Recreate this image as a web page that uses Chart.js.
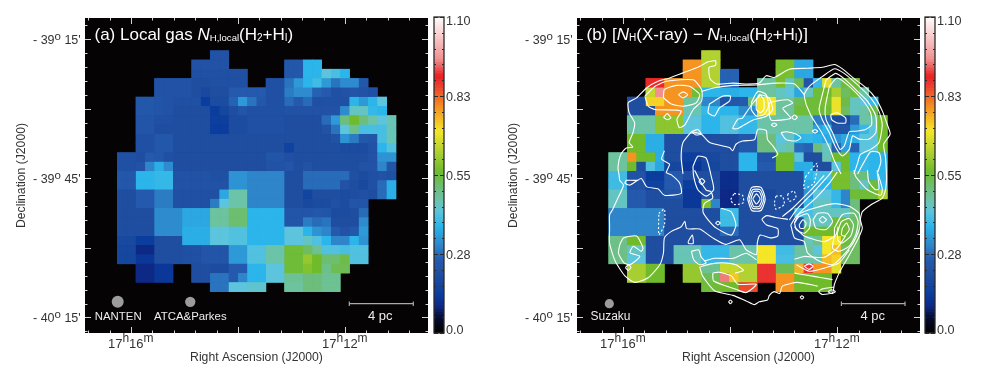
<!DOCTYPE html>
<html>
<head>
<meta charset="utf-8">
<title>Local gas and X-ray absorption maps</title>
<script src="https://cdn.jsdelivr.net/npm/chart.js@4"></script>
<style>
  html, body { margin: 0; background: #fff; }
  canvas { position: absolute; top: 0; }
</style>
</head>
<body>
<canvas id="panelA" style="left:0" width="490" height="378"></canvas>
<canvas id="barA" style="left:428px" width="51" height="378"></canvas>
<canvas id="panelB" style="left:490px" width="491" height="378"></canvas>
<canvas id="barB" style="left:919px" width="51" height="378"></canvas>
<script>
const _ = null;

// Column density per map cell (one cell = 2 arcmin), rows run north to south
const localGasRows = [
  [_,_,_,_,_,_,_,_,_,_,.22,.22,_,_,_,_,_,_,_,_,_,_,_,_,_,_,_,_,_,_],
  [_,_,_,_,_,_,_,_,.22,.22,.22,.22,_,_,_,_,_,_,.24,.24,.37,.37,_,_,_,_,_,_,_,_],
  [_,_,_,_,_,_,_,_,.21,.21,.21,.21,.21,.21,_,_,_,_,.24,.24,.37,.37,.42,.4,.37,_,_,_,_,_],
  [_,_,_,_,.22,.22,.22,.22,.2,.2,.21,.21,.21,.21,_,_,.21,.21,.28,.33,.37,.39,.33,.28,.31,.31,.24,_,_,_],
  [_,_,_,_,.22,.22,.22,.22,.2,.18,.2,.2,.25,.25,.25,.25,.21,.21,.29,.31,.31,.26,.25,.21,.22,.23,.22,.21,_,_],
  [_,_,.24,.24,.23,.22,.21,.21,.21,.13,.19,.19,.26,.33,.28,.24,.21,.21,.27,.25,.27,.21,.21,.21,.21,.37,.33,.37,.42,_],
  [_,_,.24,.24,.23,.22,.2,.2,.2,.2,.13,.17,.2,.23,.21,.21,.21,.21,.22,.22,.22,.22,.22,.22,.31,.44,.44,.38,.37,_],
  [_,_,.23,.23,.21,.21,.2,.2,.2,.2,.14,.14,.19,.19,.21,.21,.21,.21,.2,.2,.2,.2,.27,.33,.5,.56,.5,.46,.42,.45],
  [_,_,.23,.23,.2,.2,.2,.2,.2,.2,.13,.13,.19,.19,.21,.21,.21,.21,.2,.2,.2,.2,.22,.28,.42,.49,.4,.4,.4,.45],
  [_,_,.21,.21,.24,.24,.2,.2,.2,.2,.2,.2,.2,.2,.2,.2,.2,.2,.2,.2,.2,.2,.2,.22,.32,.29,.24,.23,.4,.45],
  [_,_,.21,.21,.24,.24,.2,.2,.2,.2,.2,.2,.2,.2,.2,.2,.2,.2,.15,.2,.2,.2,.2,.2,.19,.19,.19,.22,.37,.41],
  [.21,.21,.2,.25,.24,.21,.2,.2,.2,.2,.2,.2,.2,.2,.2,.2,.23,.23,.21,.2,.2,.2,.2,.2,.2,.2,.2,.22,.32,.32],
  [.21,.21,.22,.3,.36,.31,.2,.2,.2,.2,.2,.2,.2,.2,.2,.2,.22,.22,.23,.2,.22,.2,.2,.2,.2,.2,.22,.22,.3,.23],
  [.24,.24,.37,.37,.38,.38,.22,.22,.22,.22,.21,.21,.32,.32,.3,.3,.3,.3,.2,.2,.27,.27,.27,.27,.27,.21,.19,.21,.22,.21],
  [.24,.24,.37,.37,.38,.38,.22,.22,.22,.22,.22,.22,.32,.32,.3,.3,.3,.3,.2,.2,.27,.27,.27,.27,.22,.2,.18,.21,.27,.36],
  [.2,.2,.25,.25,.29,.29,.21,.21,.21,.21,.21,.35,.46,.46,.3,.3,.3,.3,.2,.2,.16,.2,.2,.2,.19,.2,.21,.2,.27,.36],
  [.2,.2,.25,.25,.29,.29,.21,.21,.21,.21,.29,.42,.46,.46,.3,.3,.3,.3,.2,.2,.18,.19,.19,.21,.19,.23,.23,_,_,_],
  [.2,.2,.2,.2,.31,.31,.31,.35,.35,.35,.47,.47,.51,.51,.37,.37,.37,.37,.23,.23,.23,.24,.23,.19,.19,.2,.27,_,_,_],
  [.2,.2,.2,.2,.31,.31,.31,.35,.35,.35,.47,.47,.51,.51,.37,.37,.37,.37,.23,.23,.29,.27,.28,.2,.2,.2,.31,_,_,_],
  [.2,.2,.2,.2,.31,.31,.31,.36,.36,.36,.42,.42,.41,.41,.37,.37,.37,.37,.42,.42,.37,.32,.3,.25,.22,.24,.33,_,_,_],
  [.18,.18,.13,.13,.2,.2,.2,.36,.36,.36,.42,.42,.41,.41,.37,.37,.37,.37,.42,.42,.44,.41,.37,.3,.3,.37,.32,_,_,_],
  [.17,.17,.09,.09,.2,.2,.2,.21,.21,.23,.23,.23,.33,.33,.41,.41,.46,.46,.55,.55,.52,.48,.41,.41,.4,.41,.41,_,_,_],
  [.17,.17,.12,.12,.2,.2,.2,.21,.21,.23,.23,.23,.33,.33,.41,.41,.46,.46,.55,.55,.6,.56,.51,.51,.54,.41,.41,_,_,_],
  [_,_,.09,.09,.12,.12,_,_,.2,.2,.19,.19,.25,.25,.37,.37,.42,.42,.55,.55,.58,.56,.49,.53,.53,_,_,_,_,_],
  [_,_,.09,.09,.12,.12,_,_,.2,.2,.28,.28,.25,.3,.37,.37,.42,.42,.48,.48,.5,.5,.48,.48,_,_,_,_,_,_],
  [_,_,_,_,_,_,_,_,_,_,.28,.28,.42,.42,.43,.43,_,_,.47,.47,.5,.5,.48,.48,_,_,_,_,_,_]
];

const xrayExcessRows = [
  [_,_,_,_,_,_,_,_,_,_,.63,.63,_,_,_,_,_,_,_,_,_,_,_,_,_,_,_,_,_,_],
  [_,_,_,_,_,_,_,_,.78,.78,.63,.63,_,_,_,_,_,_,.57,.57,.35,.35,_,_,_,_,_,_,_,_],
  [_,_,_,_,_,_,_,_,.78,.78,.63,.63,.26,.26,_,_,_,_,.57,.57,.35,.35,_,_,_,_,_,_,_,_],
  [_,_,_,_,.88,.88,.78,.78,.78,.78,.63,.63,.26,.26,_,_,.47,.47,.57,.44,.53,.23,.38,.68,.47,.55,.55,_,_,_],
  [_,_,_,_,.65,.95,.78,.78,.78,.55,.37,.37,.36,.36,.37,.37,.47,.47,.44,.42,.35,.44,.55,.56,.62,.52,.55,.46,_,_],
  [_,_,.2,.2,.72,.72,.78,.78,.47,.47,.3,.3,.22,.24,.25,.5,.7,.7,.47,.47,.53,.55,.55,.57,.69,.54,.44,.42,.38,_],
  [_,_,.2,.2,.2,.78,.78,.78,.45,.45,.38,.38,.37,.37,.31,.31,.7,.7,.47,.47,.55,.55,.55,.55,.69,.52,.44,.46,.54,_],
  [_,_,.46,.46,.46,.59,.59,.59,.42,.42,.37,.37,.41,.41,.38,.38,.46,.46,.46,.46,.46,.46,.29,.27,.19,.19,.27,.46,.46,.56],
  [_,_,.46,.46,.46,.59,.59,.59,.42,.42,.37,.37,.41,.41,.38,.38,.46,.46,.46,.46,.46,.46,.34,.37,.23,.23,.33,.38,.42,.56],
  [_,_,.56,.56,.36,.36,.2,.2,.2,.2,.2,.2,.2,.2,.24,.24,.5,.5,.42,.44,.37,.38,.37,.35,.32,.35,.36,.42,.42,.56],
  [_,_,.56,.56,.36,.36,.2,.2,.2,.2,.2,.2,.2,.2,.24,.24,.5,.5,.44,.46,.27,.26,.5,.44,.26,.34,.26,.42,.42,.56],
  [.47,.47,.78,.56,.56,.36,.2,.2,.14,.14,.18,.18,.2,.2,.37,.37,.23,.23,.56,.56,.42,.2,.2,.45,.56,.56,.37,.38,.37,.37],
  [.47,.47,.56,.2,.41,.35,.17,.17,.12,.12,.17,.17,.2,.2,.37,.37,.25,.25,.56,.56,.36,.36,.2,.2,.42,.56,.37,.38,.37,.37],
  [.39,.39,.22,.22,.13,.13,.25,.25,.2,.2,.2,.2,.1,.1,.2,.2,.2,.2,.2,.2,.2,.37,.4,.4,.57,.57,.5,.5,.37,.37],
  [.39,.39,.22,.22,.15,.15,.25,.25,.13,.13,.2,.2,.1,.1,.2,.2,.2,.2,.2,.2,.2,.35,.37,.37,.57,.57,.5,.44,.55,.38],
  [.44,.44,.25,.25,.2,.2,.23,.23,.12,.12,.21,.21,.09,.09,.2,.2,.18,.18,.2,.2,.2,.32,.42,.42,.38,.3,.55,.55,.55,.62],
  [.44,.44,.25,.25,.2,.2,.2,.2,.12,.12,.58,.3,.09,.09,.2,.2,.2,.2,.2,.2,.2,.38,.44,.44,.38,.3,.5,_,_,_],
  [.3,.3,.3,.3,.3,.3,.2,.2,.2,.2,.2,.2,.39,.39,.2,.2,.2,.2,.2,.2,.4,.4,.44,.44,.44,.44,.5,_,_,_],
  [.3,.3,.3,.3,.3,.3,.2,.2,.2,.2,.2,.2,.39,.39,.2,.2,.2,.2,.2,.2,.2,.45,.44,.44,.55,.55,.52,_,_,_],
  [.3,.3,.3,.3,.3,.3,.2,.2,.2,.2,.2,.2,.27,.27,.2,.2,.2,.2,.2,.2,.2,.56,.56,.56,.56,.56,.52,_,_,_],
  [.49,.49,.56,.56,.2,.2,.2,.2,.2,.2,.2,.2,.2,.2,.2,.2,.2,.2,.2,.2,.2,.45,.49,.7,.7,.55,.52,_,_,_],
  [.49,.49,.44,.44,.2,.2,.2,.45,.45,.45,.38,.38,.38,.46,.46,.46,.7,.7,.39,.39,.47,.47,.42,.7,.74,.52,.52,_,_,_],
  [.49,.49,.42,.42,.2,.2,.2,.45,.45,.45,.38,.38,.38,.46,.46,.46,.7,.7,.4,.4,.46,.46,.46,.74,.72,.52,.52,_,_,_],
  [_,_,.62,.62,.56,.56,_,_,.6,.6,.48,.48,.65,.65,.63,.63,.87,.87,.53,.53,.75,.9,.78,.78,.68,_,_,_,_,_],
  [_,_,.62,.62,.56,.56,_,_,.6,.6,.53,.53,.94,.73,.63,.63,.87,.87,.78,.78,.56,.56,.56,.56,_,_,_,_,_,_],
  [_,_,_,_,_,_,_,_,_,_,.55,.55,.56,.56,.85,.85,_,_,.78,.78,.56,.56,.56,.56,_,_,_,_,_,_]
];

// X-ray contours traced in map-cell coordinates [column, row]
const openContours = [
  [[1.1,13.3],[1,12.6],[1.3,11.2],[1.9,10.5],[2.6,10.4],[2.2,9.9],[2.6,8.9],[2.8,7.8],[2.2,6.7],[2.1,5.6],[3,5.1],[4.1,4],[5.3,3.3],[6.4,3],[8,2.4],[9.6,1.8],[10.7,1.2],[11.5,1.1],[11.5,1.6],[10.8,1.8],[10.9,3],[11.6,3.6],[13.4,3.5],[14.8,3.6],[16.2,3.5],[16.95,2.7],[17.8,2.9],[19.45,2],[21.4,1.9],[23,1.8],[24.3,1.5],[25.2,2],[26.4,3],[27.7,4],[28.7,5.1],[29.45,6.5],[30,8],[30.3,9],[29.6,10.1],[29.8,11.5],[29.9,13.3],[29.9,14],[29.8,15],[29.45,15.9],[28.2,16.65],[27.3,17.4],[27.1,18.25],[27.3,19.15],[26.8,20.4],[25.7,22.4],[25.2,23.25],[24.8,24],[24.3,25.2],[24.1,26.1],[23,26.3],[22.6,26],[23,25.7],[24.2,25.5]],
  [[22.5,25.4],[20.3,25],[18.7,25.4],[18.4,26.2],[17.8,26],[17.3,26.4],[17.1,26.9],[16.2,27.1],[15.7,27.4],[14.8,27],[13.4,26.4],[11.4,25.9],[10.1,24.3],[9.8,23.3]],
  [[1.1,13.3],[1.2,14],[1.6,14.5],[.9,16.1],[.4,17.2],[.1,17.7],[.1,19.1],[.1,20.8],[.7,22.7],[1.75,24.3],[2.8,25],[4.25,24.5],[5.5,23.1],[5.9,21.8],[6,20.2],[6.75,19.5],[7.8,19],[8.2,18.4],[8.4,19.2],[9.8,19.25],[11.2,20.2],[12.6,20.9],[14.1,20.4],[14.8,21.5],[15.9,22],[16,20.7],[16.3,19.9],[17.4,20.2],[18.2,20],[18.2,19.2],[17,18.8],[16.5,18.2],[17,17.8],[18,18],[19.3,18.2]],
  [[10,4.4],[11.4,4],[13.4,3.75],[15.9,3.7],[18,3.5],[20,3.6],[21.05,4.75]],
  [[8.9,8.75],[9.95,9],[10.85,9.9],[13,10.45],[13.35,10.8],[13.7,10.1],[14.4,9.75],[15.7,9.6],[16.05,8.5],[16.95,8.6],[17.1,9.6],[17.7,10.3],[18.2,11.2],[17.6,11.6]],
  [[8.9,8.75],[8,9.9],[7.8,11.5],[8,13.3]],
  [[6,10.8],[5.7,11.7],[6.55,12.25],[6.2,13.15],[6.75,13.4],[7.65,14.3],[7.8,15.4],[6,15.6],[5.3,14.9],[4.1,14.7],[3.5,13.8],[2.3,14.5],[1.75,14.3],[1.9,14],[3.2,14]],
  [[9.25,12.9],[9.7,13.8],[10.5,15.05],[11,15.2],[11.2,15.9],[10.3,16.5],[10.15,17.4],[10.7,18.25],[11.6,19.15],[13.2,19.9],[13.7,18.8],[13.2,17.4],[12.1,17]],
  [[10.3,22.7],[11.4,22.4],[13.4,22.4],[14.8,21.85],[15.9,22.55]],
  [[9.9,23.3],[11,23],[12.3,22.9],[13.7,23.1],[14.5,23.7],[13.6,24]],
  [[21.25,5.8],[21.05,4.75],[21.6,3.85],[23,2.8],[24.3,1.95],[25.35,2.45],[26.8,3.7],[28.2,5.1],[29.1,6.55],[29.45,8],[29.1,9.9],[28.2,10.65],[27.1,11.2],[26.8,12.1],[26.4,13.3]],
  [[21.25,5.8],[21.8,7.05],[22.85,8.7],[23.75,10.45],[24.3,11.9],[25,13.3]],
  [[26.8,13.3],[27.5,12],[28.2,10.9],[29.1,11],[29.3,12],[28.9,13.3]],
  [[20,18.6],[20.5,17.55],[22.3,15.9],[23.75,14.3],[24.6,13.1]],
  [[19.45,18.25],[20.35,17],[22.1,15.2],[23.55,13.6],[24.1,12.9]],
  [[18.7,17.9],[19.8,17],[21.8,15],[23.2,13.45]],
  [[26.4,12.9],[26.6,13.6],[27.85,15],[29.3,15.6],[29.45,14.9],[29,13.3]],
  [[27.85,12.9],[28,14.15],[28.7,15],[29.1,14.9],[28.9,12.9]],
  [[20,19],[21.05,20],[23.2,20.6],[24.45,19.9],[24.7,19]],
  [[20,22.5],[21.05,22.2],[23.2,22.3],[24.6,21.3],[25.5,20]],
  [[20.2,23.1],[21.6,23.8],[23.4,23.4],[24.8,22.9],[25.9,21.5]],
  [[20,24],[22.1,24.35],[24.1,24.7]]
];

const closedContours = [
  [[7.5,4.75],[8,4.45],[8.5,4.75],[8,5.1]],
  [[5.9,5.1],[6,4.2],[7.3,3.75],[8.7,3.85],[9.8,4.75],[9.4,5.65],[8,6],[6.75,5.75]],
  [[3.9,4.9],[5,3.85],[6.2,3.3],[9.1,3.15],[10,4.2],[10,5.45],[9.1,6.35],[8.2,8],[7.6,8.3],[7.35,7.4],[7.8,6.5],[5,6.35],[4.25,6]],
  [[5.9,7.2],[6.3,6.8],[6.7,7.25],[6.3,7.45]],
  [[10.85,5.75],[12.3,4.9],[13.1,4.9],[13,5.45],[11.9,6.2],[11.4,7.05],[10.7,6.7]],
  [[15.9,5.3],[16.25,4.75],[16.7,5.3],[16.7,6.35],[16.35,6.7],[15.9,6.35]],
  [[15.4,5.5],[16.05,4.4],[16.95,4.75],[17.2,6],[16.7,6.9],[15.9,7.05],[15.35,6.35]],
  [[14.4,7.3],[15.5,5.7],[16.4,4.8],[17.3,5.15],[17.65,6.4],[16.9,7.1],[15.5,7.5],[13.9,8.4],[13.35,8.4],[13.9,7.4]],
  [[17.3,7.05],[17.3,5.65],[18,5.45],[19.3,5.3],[19.8,5.65],[18.75,6.2],[19.3,6.9],[19.6,7.3],[18.55,7.5],[17.5,7.5]],
  [[19.7,7.2],[20,6.95],[20.3,7.2],[20,7.45]],
  [[17.5,8],[17.8,7.8],[18.1,8],[17.8,8.2]],
  [[21.9,8.7],[22.2,8.5],[22.5,8.7],[22.2,8.9]],
  [[18.55,8.85],[19.1,8.75],[20.15,9],[20.7,9.4],[20.15,9.75],[19.1,9.6]],
  [[8.9,8.75],[9.6,8.5],[9.95,9],[9.4,9.1]],
  [[9.07,12.5],[9.6,11.4],[10.5,11.6],[11.05,13.6],[11.3,15],[10.5,15.7],[9.6,15],[9.15,13.6]],
  [[9.7,14.1],[10,13.8],[10.35,14.1],[10,14.45]],
  [[11.5,18.6],[11.75,18.4],[12,18.6],[11.75,18.8]],
  [[8.55,20.6],[9,19.9],[9.1,20.8],[8.6,20.8]],
  [[1.2,20.9],[1.6,20.2],[3,20],[3.7,21.3],[3.5,21.65],[2.65,21.1],[2.3,21.8],[3.35,22.2],[2.3,23.1],[1.65,22.9],[1.05,21.85]],
  [[1.8,23.4],[2.1,23.1],[2.4,23.4],[2.1,23.7]],
  [[8.9,21.65],[9.7,21.5],[9.95,22.25],[10.5,22.9],[9.8,23.1],[9.15,22.55]],
  [[11.2,24],[11.3,24.85],[13.7,25.75],[14.8,26.1],[15.9,25.2],[13.9,25.2],[13.2,24.3],[11.9,23.9]],
  [[23.4,3.15],[24.45,2.45],[25.5,3.15],[26.8,4.4],[27.85,5.45],[28.75,7.05],[28.75,8.85],[28,9.55],[26.95,9.55],[26.25,9.2],[25.9,10.65],[25.15,11.35],[24.45,10.45],[23.75,8.85],[23,7.45],[22.65,6.35],[23,4.75]],
  [[23.75,3.85],[24.6,2.95],[25.9,3.85],[27.3,5.3],[28.2,6.7],[28.3,8],[27.65,8.5],[26.6,8.7],[25.9,8.75],[25.35,10.3],[24.9,10.65],[24.1,8.85],[23.4,7.45],[23.3,6.2]],
  [[23.9,6.9],[24.6,6.7],[25.5,7.25],[25.5,7.8],[24.6,7.8],[24,7.45]],
  [[20.5,18.8],[20.9,18.25],[21.25,18.6],[21.05,19.15],[20.6,19.15]],
  [[20,18.6],[20.5,17.9],[21.4,17.6],[21.7,18.25],[21.6,19.15],[21.05,19.7],[20.2,19.3]],
  [[22.65,18.25],[23,17.9],[23.45,18.25],[23,18.6]],
  [[22,18.25],[22.5,17.55],[23.55,17.55],[24.1,18.45],[23.4,19.3],[22.3,19.15]],
  [[25.15,19.15],[25.6,18.6],[25.9,19.3],[25.4,20],[25.05,19.85]],
  [[24.6,19.7],[25.05,18.45],[25.9,18.1],[26.35,18.8],[26.05,20],[25.15,20.75],[24.7,20.5]],
  [[24.3,19.15],[25.15,17.7],[26.4,17.55],[26.85,18.45],[26.6,19.85],[25.9,21.1],[24.8,21.65],[24.1,21.3],[24.3,19.9]],
  [[19.6,18.8],[20.35,17.7],[22.1,17],[24.3,16.5],[25.9,16.8],[26.95,17.55],[27.05,19],[26.4,20.6],[25.15,22.2],[24.1,23.1],[22.65,22.7],[21.4,21.8],[21.05,20.6],[20,20.2]],
  [[21.05,23.25],[21.55,23],[22,23.25],[21.55,23.6]],
  [[15.5,16],[15.9,15.45],[16.3,16],[15.9,16.55]],
  [[15.3,16],[15.6,15.2],[16.2,15.2],[16.5,16],[16.2,16.8],[15.6,16.8]],
  [[15.1,16],[15.5,15],[16.3,15],[16.7,16],[16.3,17],[15.5,17]],
  [[14.95,16],[15.4,14.75],[16.4,14.75],[16.85,16],[16.4,17.25],[15.4,17.25]],
  [[12.9,27.1],[13.1,26.9],[13.3,27.1],[13.1,27.3]],
  [[20.6,26.6],[20.8,26.45],[21,26.6],[20.8,26.8]],
  [[23.6,26],[24,25.8],[24.4,26],[24,26.2]]
];

const dashedContours = [
  [[13.5,15.4],[14.4,15.6],[14.5,16.4],[13.5,16.6],[13.15,16.1]],
  [[18,15.7],[18.7,15.7],[18.9,16.6],[18,17.1],[17.85,16.4]],
  [[19.25,15.5],[19.95,15.15],[20.15,15.9],[19.4,16.25]],
  [[21.2,13.6],[22.45,12.15],[22.1,14.3],[21,14.85]],
  [[5.4,17.55],[6,17.1],[6,18.8],[5.4,19.85]]
];

// Axis ticks: RA minutes past 17h, declination arcmin past -39 deg
const raTicks = [16.8,16.4,16,15.6,15.2,14.8,14.4,14,13.6,13.2,12.8,12.4,12,11.6,11.2,10.8];
const raMajor = [16,14,12];
const raLabels = [16,12];
const decTicks = [12,15,18,21,24,27,30,33,36,39,42,45,48,51,54,57,60,63,66,69,72,75,78];
const decMajor = [15,30,45,60,75];
const decLabels = [[15,'39','15'],[45,'39','45'],[75,'40','15']];
const barTicks = [[0,'0.0'],[.275,'0.28'],[.55,'0.55'],[.825,'0.83'],[1.1,'1.10']];

const colourStops = [
  [0,[0,0,0]],[.05,[6,12,48]],[.09,[14,40,134]],[.13,[10,61,158]],[.2,[31,78,160]],[.25,[36,89,173]],
  [.3,[46,133,201]],[.37,[43,181,234]],[.42,[92,196,220]],[.46,[108,196,168]],[.5,[109,190,124]],
  [.56,[111,187,44]],[.62,[168,207,50]],[.7,[245,230,40]],[.78,[245,148,32]],[.87,[234,50,48]],
  [.89,[232,32,31]],[.95,[240,144,144]],[1.1,[255,255,255]]
];

function colourFor(v) {
  for (let i = 1; i < colourStops.length; i++) {
    const a = colourStops[i - 1], b = colourStops[i];
    if (v <= b[0]) {
      const t = (v - a[0]) / (b[0] - a[0]);
      const c = a[1].map((p, k) => Math.round(p + (b[1][k] - p) * t));
      return 'rgb(' + c.join(',') + ')';
    }
  }
  return '#fff';
}

function cellPoints(rows) {
  const pts = [];
  rows.forEach((row, r) => row.forEach((v, c) => {
    if (v !== null) pts.push({ x: c + 0.5, y: r + 0.5, v: v });
  }));
  return pts;
}

function lineData(pairs, closed) {
  const pts = pairs.map(p => ({ x: p[0], y: p[1] }));
  if (closed) pts.push(pts[0]);
  return pts;
}

function contourSet(pairs, closed, dash) {
  return {
    type: 'scatter', data: lineData(pairs, closed), showLine: true, pointRadius: 0,
    borderColor: '#fff', borderWidth: 1.1, tension: 0.2, borderDash: dash || [], order: 0
  };
}

// cells are drawn twice, a slightly larger copy underneath hides the antialiasing seams
function cellSet(rows, radius, order) {
  return {
    type: 'scatter',
    data: cellPoints(rows),
    pointStyle: 'rect',
    pointRadius: radius,
    pointBorderWidth: 0,
    backgroundColor: c => c.raw ? colourFor(c.raw.v) : '#000',
    order: order
  };
}

// mixed-size text: runs are [text, size, raise, italic]
function drawRuns(ctx, x, y, runs, colour) {
  ctx.fillStyle = colour;
  ctx.textAlign = 'left';
  ctx.textBaseline = 'alphabetic';
  runs.forEach(r => {
    ctx.font = (r[3] ? 'italic ' : '') + r[1] + 'px "Liberation Sans"';
    ctx.fillText(r[0], x, y - r[2]);
    x += ctx.measureText(r[0]).width;
  });
}

function mapPlugin(cfg) {
  return {
    id: 'mapFrame',
    beforeDatasetsDraw(chart) {
      const a = chart.chartArea, ctx = chart.ctx;
      ctx.fillStyle = '#050303';
      ctx.fillRect(a.left, a.top, a.right - a.left, a.bottom - a.top);
    },
    afterDraw(chart) {
      const a = chart.chartArea, ctx = chart.ctx, sx = chart.scales.x, sy = chart.scales.y;
      const raX = ra => sx.getPixelForValue(cfg.ra16 + (16 - ra) * 5.76);
      const decY = d => sy.getPixelForValue(-1.22 + (d - 15) / 2);
      ctx.save();
      ctx.strokeStyle = '#d4d4d4';
      ctx.lineWidth = 1;
      ctx.beginPath();
      raTicks.forEach(t => {
        const x = Math.round(raX(t)) + 0.5, len = raMajor.includes(t) ? 6 : 2.5;
        ctx.moveTo(x, a.top); ctx.lineTo(x, a.top + len);
        ctx.moveTo(x, a.bottom); ctx.lineTo(x, a.bottom - len);
      });
      decTicks.forEach(t => {
        const y = Math.round(decY(t)) + 0.5, len = decMajor.includes(t) ? 6 : 2.5;
        ctx.moveTo(a.left, y); ctx.lineTo(a.left + len, y);
        ctx.moveTo(a.right, y); ctx.lineTo(a.right - len, y);
      });
      ctx.stroke();

      const ink = '#333';
      raLabels.forEach(t => {
        const x = raX(t) - 23;
        drawRuns(ctx, x, a.bottom + 14.5, [['17', 13, 0], ['h', 12, 6], [String(t), 13, 0], ['m', 12, 6]], ink);
      });
      decLabels.forEach(d => {
        const y = decY(d[0]) + 5;
        drawRuns(ctx, a.left - 52, y, [['- ' + d[1], 12.5, 0], ['o', 11.5, 4], [' ' + d[2] + "'", 12.5, 0]], ink);
      });
      ctx.fillStyle = ink;
      ctx.font = '12.2px "Liberation Sans"';
      ctx.textAlign = 'center';
      ctx.fillText('Right Ascension (J2000)', (a.left + a.right) / 2, a.bottom + 27.5);
      ctx.save();
      ctx.translate(a.left - 60, (a.top + a.bottom) / 2);
      ctx.rotate(-Math.PI / 2);
      ctx.fillText('Declination (J2000)', 0, 0);
      ctx.restore();

      drawRuns(ctx, a.left + 9.5, a.top + 22, cfg.title, '#fff');
      ctx.textAlign = 'left';
      cfg.notes.forEach(n => {
        ctx.fillStyle = '#eee';
        ctx.font = n[3] + 'px "Liberation Sans"';
        ctx.fillText(n[0], a.left + n[1], a.top + n[2]);
      });
      ctx.restore();
    }
  };
}

function makeMap(id, rows, cfg) {
  const datasets = [cellSet(rows, 6.58, 2), cellSet(rows, 7.0, 3)].concat(cfg.extra);
  return new Chart(document.getElementById(id), {
    type: 'scatter',
    data: { datasets: datasets },
    options: {
      responsive: false,
      animation: false,
      events: [],
      layout: { padding: cfg.padding },
      plugins: { legend: { display: false }, tooltip: { enabled: false } },
      scales: {
        x: { type: 'linear', display: false, min: cfg.xMin, max: cfg.xMin + 343 / 9.29 },
        y: { type: 'linear', display: false, reverse: true, min: -3.52, max: 30.46 }
      }
    },
    plugins: [mapPlugin(cfg)]
  });
}

function beamSet(x, y, r) {
  return { type: 'scatter', data: [{ x: x, y: y }], pointRadius: r, pointBorderWidth: 0, backgroundColor: '#9c9c9c', order: 0 };
}

function scaleBarSet(x0, x1) {
  const y = 27.3;
  return {
    type: 'scatter', showLine: true, pointRadius: 0, borderColor: '#aaa', borderWidth: 1.2, order: 0,
    data: [{x:x0,y:y-.25},{x:x0,y:y+.25},{x:x0,y:y},{x:x1,y:y},{x:x1,y:y-.25},{x:x1,y:y+.25}]
  };
}

function makeBar(id) {
  const levels = [];
  for (let i = 0; i < 110; i++) levels.push(i / 100);
  new Chart(document.getElementById(id), {
    type: 'bar',
    data: {
      labels: ['N'],
      datasets: levels.map(v => ({
        data: [[v, v + 0.012]], backgroundColor: colourFor(v + 0.005),
        barPercentage: 1, categoryPercentage: 1, grouped: false
      }))
    },
    options: {
      responsive: false,
      animation: false,
      events: [],
      layout: { padding: { left: 6, right: 35, top: 17, bottom: 45 } },
      plugins: { legend: { display: false }, tooltip: { enabled: false } },
      scales: {
        x: { display: false },
        y: { display: false, min: 0, max: 1.1 }
      }
    },
    plugins: [{
      id: 'barFrame',
      afterDraw(chart) {
        const a = chart.chartArea, ctx = chart.ctx, sy = chart.scales.y;
        ctx.save();
        ctx.strokeStyle = '#2a2a2a';
        ctx.lineWidth = 1;
        ctx.beginPath();
        for (let i = 0; i <= 20; i++) {
          const y = Math.round(sy.getPixelForValue(i * 0.055)) + 0.5, len = i % 5 === 0 ? 4 : 2;
          ctx.moveTo(a.left, y); ctx.lineTo(a.left + len, y);
          ctx.moveTo(a.right, y); ctx.lineTo(a.right - len, y);
        }
        ctx.stroke();
        ctx.lineWidth = 1.3;
        ctx.strokeRect(a.left, a.top, a.right - a.left, a.bottom - a.top);
        ctx.fillStyle = '#333';
        ctx.font = '12.6px "Liberation Sans"';
        ctx.textAlign = 'left';
        barTicks.forEach(t => {
          let y = sy.getPixelForValue(t[0]) + 4.5;
          if (t[0] === 0) y -= 4;
          if (t[0] === 1.1) y += 3;
          ctx.fillText(t[1], a.right + 2, y);
        });
        ctx.restore();
      }
    }]
  });
}

makeMap('panelA', localGasRows, {
  padding: { left: 85, right: 62, top: 18, bottom: 45 },
  xMin: -3.48,
  ra16: 1.47,
  title: [['(a) Local gas ', 17, 0], ['N', 17, 0, true], ['H,local', 9.6, -1], ['(H', 17, 0], ['2', 10, -1], ['+H', 17, 0], ['I', 10, -1], [')', 17, 0]],
  notes: [['NANTEN', 9.8, 301.8, 11.4], ['ATCA&Parkes', 69, 301.8, 11.4], ['4 pc', 283, 302, 13]],
  extra: [beamSet(0.04, 27.1, 6), beamSet(7.85, 27.1, 5.2), scaleBarSet(24.97, 31.86)]
});

makeMap('panelB', xrayExcessRows, {
  padding: { left: 87, right: 61, top: 18, bottom: 45 },
  xMin: -3.41,
  ra16: 1.55,
  title: [['(b) [', 17, 0], ['N', 17, 0, true], ['H', 10, -1], ['(X-ray) \u2212 ', 17, 0], ['N', 17, 0, true], ['H,local', 9.6, -1], ['(H', 17, 0], ['2', 10, -1], ['+H', 17, 0], ['I', 10, -1], [')]', 17, 0]],
  notes: [['Suzaku', 13.5, 302, 12], ['4 pc', 283.5, 302, 13]],
  extra: openContours.map(c => contourSet(c, false))
    .concat(closedContours.map(c => contourSet(c, true)))
    .concat(dashedContours.map(c => contourSet(c, true, [2, 2])))
    .concat([beamSet(0.07, 27.3, 4.6), scaleBarSet(25.05, 31.9)])
});

makeBar('barA');
makeBar('barB');
</script>
</body>
</html>
